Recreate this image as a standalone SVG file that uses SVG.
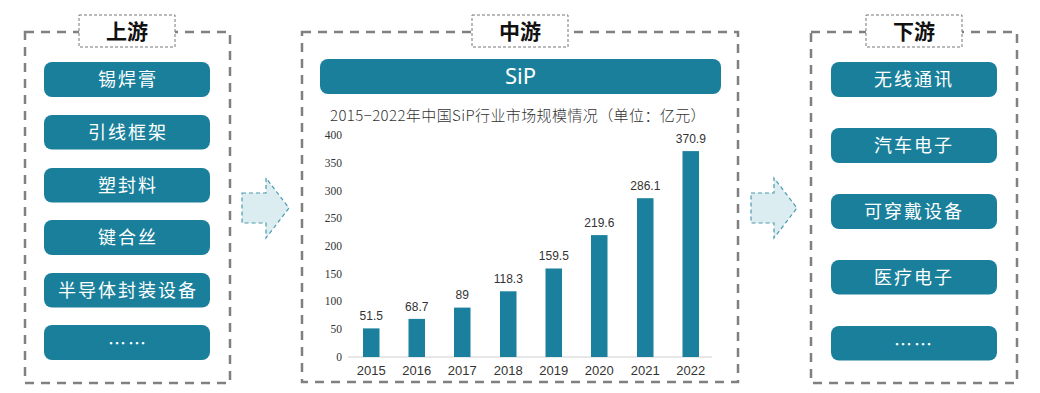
<svg xmlns="http://www.w3.org/2000/svg" width="1040" height="393" viewBox="0 0 1040 393">
<style>
.panel{fill:none;stroke:#808080;stroke-width:2.5;stroke-dasharray:9,7}
.tbox{fill:#fff;stroke:#777;stroke-width:1;stroke-dasharray:3,2}
.ttl{font-family:"Noto Sans CJK SC",sans-serif;font-weight:bold;font-size:21px;fill:#111;text-anchor:middle}
.box{fill:#1a7f9b}
.bt{font-family:"Noto Sans CJK SC",sans-serif;font-size:18px;fill:#fff;text-anchor:middle;letter-spacing:2px}
.arrow{fill:#dcedf1;stroke:#4a9aae;stroke-width:1.2;stroke-dasharray:4,3}
.bar{fill:#1b809e}
.val{font-family:"Liberation Sans",Arial,sans-serif;font-size:12px;fill:#333;text-anchor:middle}
.yr{font-family:"Liberation Sans",Arial,sans-serif;font-size:13px;fill:#333;text-anchor:middle}
.ax{font-family:"Liberation Serif","Times New Roman",serif;font-size:11.5px;fill:#333;text-anchor:end}
</style>
<rect width="1040" height="393" fill="#fff"/>

<g id="upstream">
<rect class="panel" x="25" y="32" width="205" height="351"/>
<rect class="tbox" x="79" y="15" width="96" height="32"/>
<text class="ttl" x="127" y="39">上游</text>
<rect class="box" x="44" y="62" width="166" height="35" rx="8"/>
<text class="bt" x="128" y="86">锡焊膏</text>
<rect class="box" x="44" y="115" width="166" height="34.5" rx="8"/>
<text class="bt" x="128" y="138.5">引线框架</text>
<rect class="box" x="44" y="168" width="166" height="34.5" rx="8"/>
<text class="bt" x="128" y="191.5">塑封料</text>
<rect class="box" x="44" y="220" width="166" height="35" rx="8"/>
<text class="bt" x="128" y="244">键合丝</text>
<rect class="box" x="44" y="273" width="166" height="34.5" rx="8"/>
<text class="bt" x="128" y="296.5">半导体封装设备</text>
<rect class="box" x="44" y="325" width="166" height="35" rx="8"/>
<text class="bt" x="128" y="350">……</text>
</g>

<g id="midstream">
<rect class="panel" x="302" y="32" width="436" height="350"/>
<rect class="tbox" x="472" y="15" width="96" height="32"/>
<text class="ttl" x="520" y="39">中游</text>
<rect class="box" x="320" y="59" width="401" height="35" rx="8"/>
<text x="520.5" y="84" font-family="Noto Sans, sans-serif" font-size="22" fill="#fff" text-anchor="middle">SiP</text>
<text x="518" y="121" font-family="Noto Sans CJK SC, sans-serif" font-size="15" font-weight="300" fill="#333" text-anchor="middle" letter-spacing="0.4">2015−2022年中国SiP行业市场规模情况（单位：亿元）</text>
<g id="chart">
<line x1="348" y1="357" x2="712" y2="357" stroke="#d0d0d0" stroke-width="1"/>
<text class="ax" x="342" y="139">400</text>
<text class="ax" x="342" y="167">350</text>
<text class="ax" x="342" y="194.5">300</text>
<text class="ax" x="342" y="222">250</text>
<text class="ax" x="342" y="250">200</text>
<text class="ax" x="342" y="277.5">150</text>
<text class="ax" x="342" y="305">100</text>
<text class="ax" x="342" y="333">50</text>
<text class="ax" x="342" y="361">0</text>

<rect class="bar" x="363" y="328.4" width="16.5" height="28.6"/>
<rect class="bar" x="408.5" y="318.9" width="16.5" height="38.1"/>
<rect class="bar" x="454" y="307.6" width="16.5" height="49.4"/>
<rect class="bar" x="500" y="291.3" width="16.5" height="65.7"/>
<rect class="bar" x="545.5" y="268.5" width="16.5" height="88.5"/>
<rect class="bar" x="591" y="235.1" width="16.5" height="121.9"/>
<rect class="bar" x="637" y="198.2" width="16.5" height="158.8"/>
<rect class="bar" x="682.5" y="151.1" width="16.5" height="205.9"/>

<text class="val" x="371.3" y="320">51.5</text>
<text class="val" x="416.8" y="310.5">68.7</text>
<text class="val" x="462.3" y="299">89</text>
<text class="val" x="508.3" y="283">118.3</text>
<text class="val" x="553.8" y="260">159.5</text>
<text class="val" x="599.3" y="227">219.6</text>
<text class="val" x="645.3" y="190">286.1</text>
<text class="val" x="690.8" y="143">370.9</text>

<text class="yr" x="371.3" y="375">2015</text>
<text class="yr" x="416.8" y="375">2016</text>
<text class="yr" x="462.3" y="375">2017</text>
<text class="yr" x="508.3" y="375">2018</text>
<text class="yr" x="553.8" y="375">2019</text>
<text class="yr" x="599.3" y="375">2020</text>
<text class="yr" x="645.3" y="375">2021</text>
<text class="yr" x="690.8" y="375">2022</text>
</g>
</g>

<g id="downstream">
<rect class="panel" x="811" y="32" width="206" height="351"/>
<rect class="tbox" x="866" y="15" width="96" height="32"/>
<text class="ttl" x="914" y="39">下游</text>
<rect class="box" x="831" y="62" width="166" height="35" rx="8"/>
<text class="bt" x="914" y="86">无线通讯</text>
<rect class="box" x="831" y="128" width="166" height="35" rx="8"/>
<text class="bt" x="914" y="152">汽车电子</text>
<rect class="box" x="831" y="194" width="166" height="35" rx="8"/>
<text class="bt" x="914" y="218">可穿戴设备</text>
<rect class="box" x="831" y="260" width="166" height="34.5" rx="8"/>
<text class="bt" x="914" y="283.5">医疗电子</text>
<rect class="box" x="831" y="326" width="166" height="34.5" rx="8"/>
<text class="bt" x="914" y="351">……</text>
</g>

<g id="connectors">
<polygon class="arrow" points="242,193 266,193 266,178 289,208 266,238 266,223 242,223"/>
<polygon class="arrow" points="751,193 774,193 774,178 797,208 774,238 774,223 751,223"/>
</g>
</svg>
